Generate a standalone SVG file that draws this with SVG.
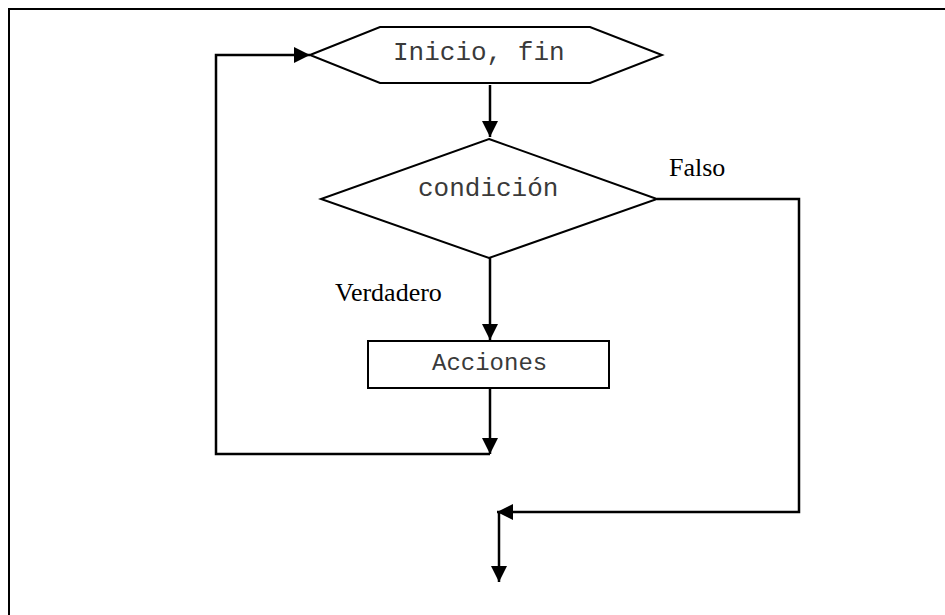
<svg xmlns="http://www.w3.org/2000/svg" width="945" height="615" viewBox="0 0 945 615">
<defs>
<style>
.shape{fill:#fff;stroke:#000;stroke-width:2}
.ln{fill:none;stroke:#000;stroke-width:2.5}
.mono{font-family:"Liberation Mono","Courier New",monospace;font-size:26px;fill:#3a3a3a}
.serif{font-family:"Liberation Serif","Times New Roman",serif;font-size:26px;fill:#000}
</style>
<marker id="ah" viewBox="0 0 10 10" refX="10" refY="5" markerWidth="16" markerHeight="16" markerUnits="userSpaceOnUse" orient="auto">
<path d="M0,0 L10,5 L0,10 Z" fill="#000"/>
</marker>
</defs>
<rect width="945" height="615" fill="#fff"/>
<path d="M9,615 V9 H945" fill="none" stroke="#000" stroke-width="2"/>
<g id="connectors">
<path class="ln" d="M490,85 V137" marker-end="url(#ah)"/>
<path class="ln" d="M490,258 V340" marker-end="url(#ah)"/>
<path class="ln" d="M490,388 V454" marker-end="url(#ah)"/>
<path class="ln" d="M490,454 H216 V55 H310" marker-end="url(#ah)"/>
<path class="ln" d="M657,199 H799 V512 H497" marker-end="url(#ah)"/>
<path class="ln" d="M499,512 V582" marker-end="url(#ah)"/>
</g>
<g id="inicio">
<polygon class="shape" points="310,55 380,27 590,27 662,55 590,83 380,83"/>
<text class="mono" x="393" y="60">Inicio, fin</text>
</g>
<g id="condicion">
<polygon class="shape" points="489,139 657,199 489,258 321,199"/>
<text class="mono" x="418" y="196">condición</text>
</g>
<g id="acciones">
<rect class="shape" x="368" y="341" width="241" height="47"/>
<text class="mono" x="432" y="370" style="font-size:24px">Acciones</text>
</g>
<g id="labels">
<text class="serif" x="669" y="176">Falso</text>
<text class="serif" x="335" y="301">Verdadero</text>
</g>
</svg>
